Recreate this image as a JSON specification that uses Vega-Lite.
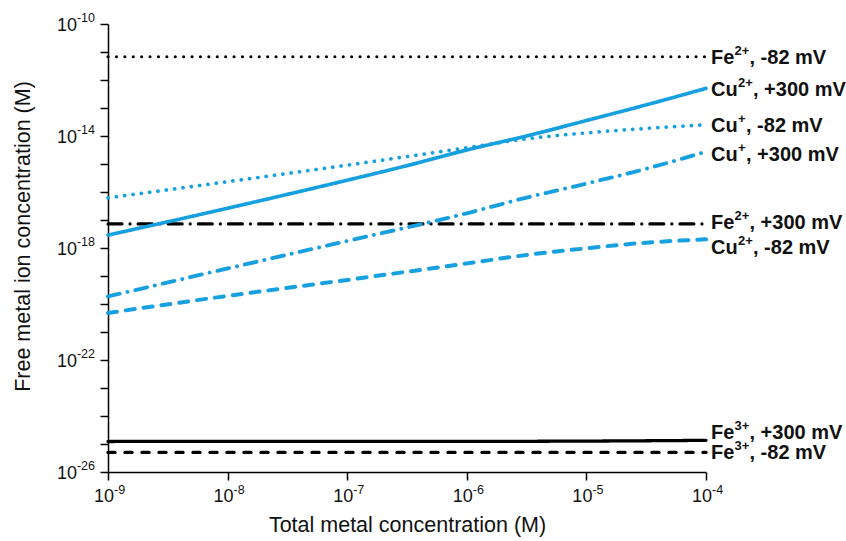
{
  "$schema": "https://vega.github.io/schema/vega-lite/v6.json",
  "autosize": "none",
  "width": 598,
  "height": 448,
  "padding": {"left": 108, "top": 24, "right": 140, "bottom": 69},
  "background": "white",
  "config": {
    "view": {"stroke": null},
    "font": "Liberation Sans",
    "axis": {
      "grid": false,
      "domainColor": "#000",
      "domainWidth": 1.5,
      "tickColor": "#000",
      "tickWidth": 1.5,
      "tickSize": 8,
      "labels": false,
      "titleFont": "Liberation Sans",
      "titleFontSize": 21.5,
      "titleFontWeight": "normal",
      "titleColor": "#111"
    }
  },
  "datasets": {
    "lines": [
      {"series": "Fe2+ -82", "x": 1e-9, "y": 6.76e-12},
      {"series": "Fe2+ -82", "x": 1e-6, "y": 6.76e-12},
      {"series": "Fe2+ -82", "x": 1e-4, "y": 6.76e-12},
      {"series": "Fe2+ +300", "x": 1e-9, "y": 7.24e-18},
      {"series": "Fe2+ +300", "x": 1e-6, "y": 7.24e-18},
      {"series": "Fe2+ +300", "x": 1e-4, "y": 7.24e-18},
      {"series": "Fe3+ +300", "x": 1e-9, "y": 1.23e-25},
      {"series": "Fe3+ +300", "x": 1e-6, "y": 1.24e-25},
      {"series": "Fe3+ +300", "x": 1e-5, "y": 1.27e-25},
      {"series": "Fe3+ +300", "x": 1e-4, "y": 1.35e-25},
      {"series": "Fe3+ -82", "x": 1e-9, "y": 5.01e-26},
      {"series": "Fe3+ -82", "x": 1e-6, "y": 5.01e-26},
      {"series": "Fe3+ -82", "x": 1e-4, "y": 5.01e-26},
      {"series": "Cu2+ +300", "x": 1e-9, "y": 2.88e-18},
      {"series": "Cu2+ +300", "x": 1e-8, "y": 2.63e-17},
      {"series": "Cu2+ +300", "x": 1e-7, "y": 2.63e-16},
      {"series": "Cu2+ +300", "x": 3.16e-7, "y": 8.71e-16},
      {"series": "Cu2+ +300", "x": 1e-6, "y": 3.16e-15},
      {"series": "Cu2+ +300", "x": 3.16e-6, "y": 1.0e-14},
      {"series": "Cu2+ +300", "x": 1e-5, "y": 3.55e-14},
      {"series": "Cu2+ +300", "x": 3.16e-5, "y": 1.29e-13},
      {"series": "Cu2+ +300", "x": 1e-4, "y": 5.01e-13},
      {"series": "Cu+ -82", "x": 1e-9, "y": 6.17e-17},
      {"series": "Cu+ -82", "x": 1e-8, "y": 2.34e-16},
      {"series": "Cu+ -82", "x": 1e-7, "y": 9.12e-16},
      {"series": "Cu+ -82", "x": 1e-6, "y": 3.80e-15},
      {"series": "Cu+ -82", "x": 3.16e-6, "y": 7.94e-15},
      {"series": "Cu+ -82", "x": 1e-5, "y": 1.29e-14},
      {"series": "Cu+ -82", "x": 3.16e-5, "y": 1.86e-14},
      {"series": "Cu+ -82", "x": 1e-4, "y": 2.51e-14},
      {"series": "Cu+ +300", "x": 1e-9, "y": 1.86e-20},
      {"series": "Cu+ +300", "x": 1e-8, "y": 1.86e-19},
      {"series": "Cu+ +300", "x": 1e-7, "y": 1.78e-18},
      {"series": "Cu+ +300", "x": 1e-6, "y": 1.74e-17},
      {"series": "Cu+ +300", "x": 3.16e-6, "y": 6.31e-17},
      {"series": "Cu+ +300", "x": 1e-5, "y": 2.0e-16},
      {"series": "Cu+ +300", "x": 3.16e-5, "y": 6.76e-16},
      {"series": "Cu+ +300", "x": 1e-4, "y": 2.75e-15},
      {"series": "Cu2+ -82", "x": 1e-9, "y": 4.79e-21},
      {"series": "Cu2+ -82", "x": 1e-8, "y": 1.95e-20},
      {"series": "Cu2+ -82", "x": 1e-7, "y": 7.24e-20},
      {"series": "Cu2+ -82", "x": 1e-6, "y": 2.82e-19},
      {"series": "Cu2+ -82", "x": 3.16e-6, "y": 5.62e-19},
      {"series": "Cu2+ -82", "x": 1e-5, "y": 9.77e-19},
      {"series": "Cu2+ -82", "x": 3.16e-5, "y": 1.55e-18},
      {"series": "Cu2+ -82", "x": 1e-4, "y": 2.04e-18}
    ],
    "labels": [
      {"el": "Fe", "sup": "2+", "rest": ", -82 mV", "x": 1e-4, "y": 6.11e-12},
      {"el": "Cu", "sup": "2+", "rest": ", +300 mV", "x": 1e-4, "y": 4.40e-13},
      {"el": "Cu", "sup": "+", "rest": ", -82 mV", "x": 1e-4, "y": 2.28e-14},
      {"el": "Cu", "sup": "+", "rest": ", +300 mV", "x": 1e-4, "y": 2.09e-15},
      {"el": "Fe", "sup": "2+", "rest": ", +300 mV", "x": 1e-4, "y": 7.82e-18},
      {"el": "Cu", "sup": "2+", "rest": ", -82 mV", "x": 1e-4, "y": 1.0e-18},
      {"el": "Fe", "sup": "3+", "rest": ", +300 mV", "x": 1e-4, "y": 2.47e-25},
      {"el": "Fe", "sup": "3+", "rest": ", -82 mV", "x": 1e-4, "y": 4.78e-26}
    ],
    "xticks": [
      {"x": 1e-9, "exp": "-9"},
      {"x": 1e-8, "exp": "-8"},
      {"x": 1e-7, "exp": "-7"},
      {"x": 1e-6, "exp": "-6"},
      {"x": 1e-5, "exp": "-5"},
      {"x": 1e-4, "exp": "-4"}
    ],
    "yticks": [
      {"y": 1e-10, "exp": "-10"},
      {"y": 1e-14, "exp": "-14"},
      {"y": 1e-18, "exp": "-18"},
      {"y": 1e-22, "exp": "-22"},
      {"y": 1e-26, "exp": "-26"}
    ]
  },
  "layer": [
    {
      "data": {"name": "lines"},
      "mark": {"type": "line", "strokeCap": "round", "interpolate": "monotone", "clip": false},
      "encoding": {
        "x": {
          "field": "x", "type": "quantitative",
          "scale": {"type": "log", "domain": [1e-9, 1e-4], "nice": false},
          "axis": {
            "values": [1e-9, 1e-8, 1e-7, 1e-6, 1e-5, 1e-4],
            "title": "Total metal concentration (M)",
            "titleX": 299,
            "titleY": 53,
            "titleBaseline": "middle"
          }
        },
        "y": {
          "field": "y", "type": "quantitative",
          "scale": {"type": "log", "domain": [1e-26, 1e-10], "nice": false},
          "axis": {
            "values": [1e-26, 1e-25, 1e-24, 1e-23, 1e-22, 1e-21, 1e-20, 1e-19, 1e-18, 1e-17, 1e-16, 1e-15, 1e-14, 1e-13, 1e-12, 1e-11, 1e-10],
            "title": "Free metal ion concentration (M)",
            "titleX": -85,
            "titleY": 212,
            "titleAlign": "center",
            "titleBaseline": "middle"
          }
        },
        "color": {
          "field": "series", "type": "nominal", "legend": null,
          "scale": {
            "domain": ["Fe2+ -82", "Fe2+ +300", "Fe3+ +300", "Fe3+ -82", "Cu2+ +300", "Cu+ -82", "Cu+ +300", "Cu2+ -82"],
            "range": ["#000000", "#000000", "#000000", "#000000", "#16a0e0", "#16a0e0", "#16a0e0", "#16a0e0"]
          }
        },
        "strokeDash": {
          "field": "series", "type": "nominal", "legend": null,
          "scale": {
            "domain": ["Fe2+ -82", "Fe2+ +300", "Fe3+ +300", "Fe3+ -82", "Cu2+ +300", "Cu+ -82", "Cu+ +300", "Cu2+ -82"],
            "range": [[0.1, 8.3], [14, 8, 0.1, 8], [1, 0], [7, 10], [1, 0], [0.1, 8.3], [12, 8, 0.1, 8], [9, 9]]
          }
        },
        "strokeWidth": {
          "field": "series", "type": "nominal", "legend": null,
          "scale": {
            "domain": ["Fe2+ -82", "Fe2+ +300", "Fe3+ +300", "Fe3+ -82", "Cu2+ +300", "Cu+ -82", "Cu+ +300", "Cu2+ -82"],
            "range": [3, 4, 4, 4, 4, 4, 4, 4]
          }
        },
        "detail": {"field": "series"}
      }
    },
    {
      "data": {"name": "xticks"},
      "mark": {"type": "text", "align": "right", "baseline": "middle", "dx": 6, "dy": 25, "fontSize": 18, "color": "#111"},
      "encoding": {
        "x": {"field": "x", "type": "quantitative"},
        "y": {"datum": 1e-26, "type": "quantitative"},
        "text": {"value": "10"}
      }
    },
    {
      "data": {"name": "xticks"},
      "mark": {"type": "text", "align": "left", "baseline": "middle", "dx": 6, "dy": 18, "fontSize": 12.5, "color": "#111"},
      "encoding": {
        "x": {"field": "x", "type": "quantitative"},
        "y": {"datum": 1e-26, "type": "quantitative"},
        "text": {"field": "exp"}
      }
    },
    {
      "data": {"name": "yticks"},
      "mark": {"type": "text", "align": "right", "baseline": "middle", "dx": -31, "dy": 2, "fontSize": 18, "color": "#111"},
      "encoding": {
        "x": {"datum": 1e-9, "type": "quantitative"},
        "y": {"field": "y", "type": "quantitative"},
        "text": {"value": "10"}
      }
    },
    {
      "data": {"name": "yticks"},
      "mark": {"type": "text", "align": "right", "baseline": "middle", "dx": -13, "dy": -6, "fontSize": 12.5, "color": "#111"},
      "encoding": {
        "x": {"datum": 1e-9, "type": "quantitative"},
        "y": {"field": "y", "type": "quantitative"},
        "text": {"field": "exp"}
      }
    },
    {
      "data": {"name": "labels"},
      "mark": {"type": "text", "align": "left", "baseline": "middle", "dx": 5, "fontSize": 20, "fontWeight": "bold", "color": "#111", "clip": false},
      "encoding": {
        "x": {"field": "x", "type": "quantitative"},
        "y": {"field": "y", "type": "quantitative"},
        "text": {"field": "el"}
      }
    },
    {
      "data": {"name": "labels"},
      "transform": [{"filter": "datum.el == 'Fe'"}],
      "mark": {"type": "text", "align": "left", "baseline": "middle", "dx": 28.5, "dy": -7, "fontSize": 13, "fontWeight": "bold", "color": "#111", "clip": false},
      "encoding": {
        "x": {"field": "x", "type": "quantitative"},
        "y": {"field": "y", "type": "quantitative"},
        "text": {"field": "sup"}
      }
    },
    {
      "data": {"name": "labels"},
      "transform": [{"filter": "datum.el == 'Cu'"}],
      "mark": {"type": "text", "align": "left", "baseline": "middle", "dx": 32, "dy": -7, "fontSize": 13, "fontWeight": "bold", "color": "#111", "clip": false},
      "encoding": {
        "x": {"field": "x", "type": "quantitative"},
        "y": {"field": "y", "type": "quantitative"},
        "text": {"field": "sup"}
      }
    },
    {
      "data": {"name": "labels"},
      "transform": [{"filter": "datum.el == 'Fe'"}],
      "mark": {"type": "text", "align": "left", "baseline": "middle", "dx": 43.5, "fontSize": 20, "fontWeight": "bold", "color": "#111", "clip": false},
      "encoding": {
        "x": {"field": "x", "type": "quantitative"},
        "y": {"field": "y", "type": "quantitative"},
        "text": {"field": "rest"}
      }
    },
    {
      "data": {"name": "labels"},
      "transform": [{"filter": "datum.el == 'Cu' && datum.sup == '2+'"}],
      "mark": {"type": "text", "align": "left", "baseline": "middle", "dx": 47, "fontSize": 20, "fontWeight": "bold", "color": "#111", "clip": false},
      "encoding": {
        "x": {"field": "x", "type": "quantitative"},
        "y": {"field": "y", "type": "quantitative"},
        "text": {"field": "rest"}
      }
    },
    {
      "data": {"name": "labels"},
      "transform": [{"filter": "datum.el == 'Cu' && datum.sup == '+'"}],
      "mark": {"type": "text", "align": "left", "baseline": "middle", "dx": 40, "fontSize": 20, "fontWeight": "bold", "color": "#111", "clip": false},
      "encoding": {
        "x": {"field": "x", "type": "quantitative"},
        "y": {"field": "y", "type": "quantitative"},
        "text": {"field": "rest"}
      }
    }
  ]
}
